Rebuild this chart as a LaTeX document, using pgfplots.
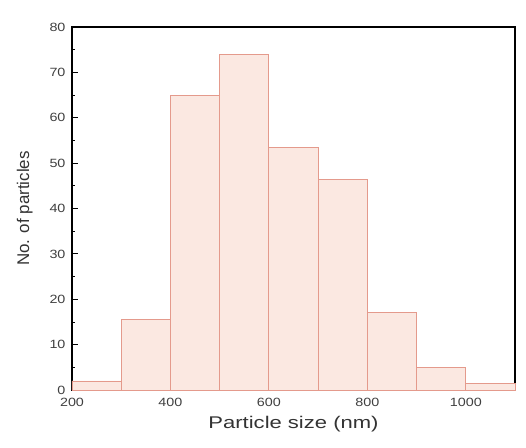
\documentclass[border=0pt]{standalone}
\usepackage{pgfplots}
\pgfplotsset{compat=1.18}
\usepackage{fontspec}
\setmainfont{Liberation Sans}
\definecolor{barfill}{HTML}{FBE8E1}
\definecolor{baredge}{HTML}{E49A8C}
\begin{document}
\begin{tikzpicture}
\begin{axis}[
  scale only axis,
  width=443bp, height=363bp,
  xmin=200, xmax=1100,
  ymin=0, ymax=80,
  xtick={200,400,600,800,1000},
  minor xtick={300,500,700,900,1100},
  ytick={0,10,...,80},
  minor ytick={5,15,...,75},
  tick align=inside,
  xtick pos=left, ytick pos=left,
  major tick length=6bp, minor tick length=3.5bp,
  axis line style={line width=1.4pt},
  every tick/.style={black, line width=0.9pt},
  /pgf/number format/assume math mode=true,
  /pgf/number format/1000 sep={},
  tick label style={font=\fontsize{12}{14}\selectfont, text=black!75},
  xticklabel={\scalebox{1.2}[1]{\pgfmathprintnumber{\tick}}},
  yticklabel={\scalebox{1.2}[1]{\pgfmathprintnumber{\tick}}},
  xticklabel style={yshift=-5bp},
  yticklabel style={xshift=-3bp},
  xlabel={\scalebox{1.3}[1]{Particle size (nm)}},
  ylabel={No. of particles},
  label style={font=\fontsize{17}{19}\selectfont, text=black!80},
  xlabel style={yshift=-2bp},
  ylabel style={yshift=10bp},
  clip=false,
]
\addplot[ybar interval, fill=barfill, draw=baredge, line width=0.8pt]
  coordinates {
  (200,2) (300,15.5) (400,65) (500,74) (600,53.5) (700,46.5)
  (800,17) (900,5) (1000,1.5) (1100,1.5)
  };
\path (rel axis cs:-0.1625,-0.157) rectangle (rel axis cs:1.0248,1.0744);
\end{axis}
\end{tikzpicture}
\end{document}
